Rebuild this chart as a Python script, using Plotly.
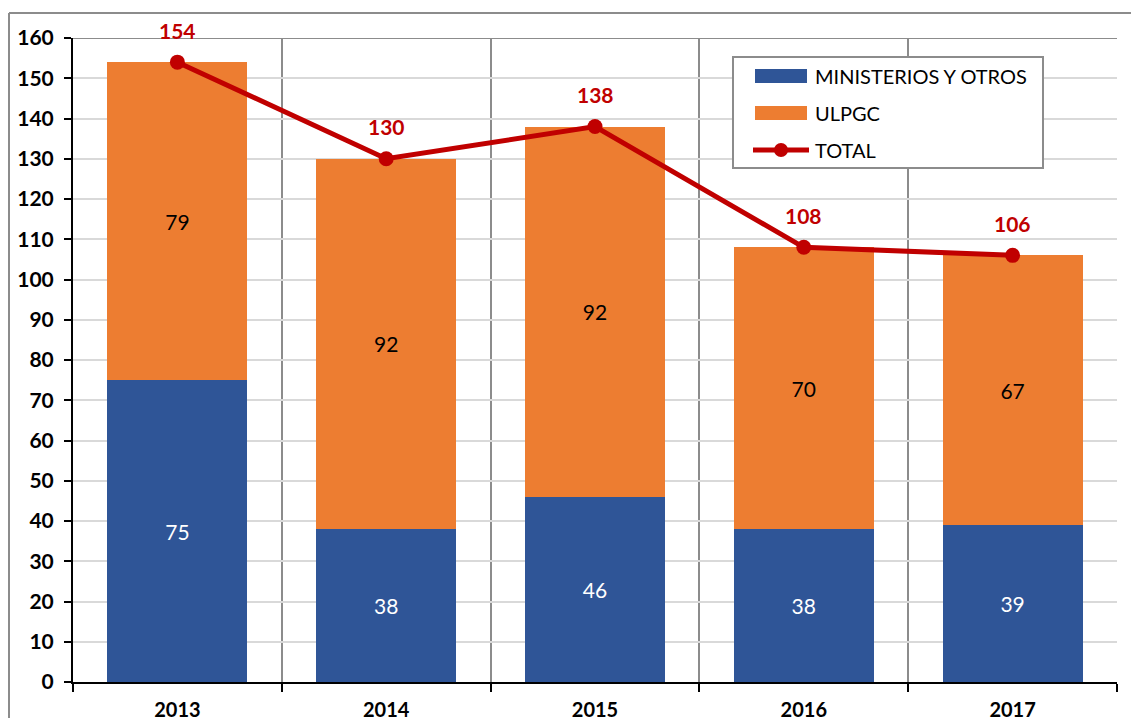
import plotly.graph_objects as go

years = ["2013", "2014", "2015", "2016", "2017"]
ministerios = [75, 38, 46, 38, 39]
ulpgc = [79, 92, 92, 70, 67]
total = [154, 130, 138, 108, 106]

BLUE = "#2F5597"
ORANGE = "#ED7D31"
RED = "#C00000"
FONT = "Lato, 'Open Sans', sans-serif"

W, H = 1132, 718
L, R, T, B = 73, 15, 38, 36
PW, PH = W - L - R, H - T - B


def px(x):
    return (x - L) / PW


def py(y):
    return (H - B - y) / PH


xpos = list(range(len(years)))

fig = go.Figure()
fig.add_trace(go.Bar(
    x=xpos, y=ministerios, name="MINISTERIOS Y OTROS",
    marker=dict(color=BLUE, line=dict(width=0)),
    text=ministerios, textposition="inside", insidetextanchor="middle",
    textfont=dict(color="white", size=21, family=FONT),
))
fig.add_trace(go.Bar(
    x=xpos, y=ulpgc, name="ULPGC",
    marker=dict(color=ORANGE, line=dict(width=0)),
    text=ulpgc, textposition="inside", insidetextanchor="middle",
    textfont=dict(color="black", size=21, family=FONT),
))
fig.add_trace(go.Scatter(
    x=xpos, y=total, name="TOTAL", mode="lines+markers",
    line=dict(color=RED, width=5),
    marker=dict(color=RED, size=15),
    cliponaxis=False,
))

shapes = [
    # darker top frame line at 160
    dict(type="line", xref="paper", yref="y", x0=0, x1=1, y0=160, y1=160,
         line=dict(color="#8C8C8C", width=2), layer="below"),
    # outer chart border
    dict(type="line", xref="paper", yref="paper", x0=px(9), x1=px(9), y0=py(13), y1=py(760),
         line=dict(color="#8C8C8C", width=2)),
    dict(type="line", xref="paper", yref="paper", x0=px(9), x1=px(1131), y0=py(13), y1=py(13),
         line=dict(color="#8C8C8C", width=2)),
    # legend box
    dict(type="rect", xref="paper", yref="paper", x0=px(733), x1=px(1043), y0=py(57), y1=py(168),
         fillcolor="white", line=dict(color="#8C8C8C", width=2), layer="above"),
    dict(type="rect", xref="paper", yref="paper", x0=px(755), x1=px(807), y0=py(69), y1=py(83),
         fillcolor=BLUE, line=dict(width=0), layer="above"),
    dict(type="rect", xref="paper", yref="paper", x0=px(755), x1=px(807), y0=py(106), y1=py(120),
         fillcolor=ORANGE, line=dict(width=0), layer="above"),
    dict(type="line", xref="paper", yref="paper", x0=px(753), x1=px(809), y0=py(150), y1=py(150),
         line=dict(color=RED, width=5), layer="above"),
    dict(type="circle", xref="paper", yref="paper", x0=px(774), x1=px(788), y0=py(143), y1=py(157),
         fillcolor=RED, line=dict(width=0), layer="above"),
]

annotations = []
# total value labels above the line markers
for xi, v in zip(xpos, total):
    annotations.append(dict(
        x=xi, y=v, xref="x", yref="y", text=f"<b>{v}</b>", showarrow=False,
        yshift=32, yanchor="middle", xanchor="center",
        font=dict(size=21, color=RED, family=FONT),
    ))
for label, yc in [("MINISTERIOS Y OTROS", 76), ("ULPGC", 113), ("TOTAL", 150)]:
    annotations.append(dict(
        xref="paper", yref="paper", x=px(813), y=py(yc), text=label,
        showarrow=False, xanchor="left", yanchor="middle",
        font=dict(size=20, color="black", family=FONT),
    ))

fig.update_layout(
    width=W, height=H,
    margin=dict(l=L, r=R, t=T, b=B, autoexpand=False),
    barmode="stack", bargap=0.33,
    paper_bgcolor="white", plot_bgcolor="white",
    showlegend=False,
    shapes=shapes, annotations=annotations,
    uniformtext=dict(minsize=21),
    xaxis=dict(
        range=[-0.5, 4.5], tickvals=xpos, ticktext=[f"<b>{y}</b>" for y in years],
        ticks="", showgrid=False, zeroline=False,
        showline=True, linecolor="black", linewidth=2,
        tickfont=dict(size=20, color="black", family=FONT),
        ticklabelstandoff=9,
        minor=dict(tickvals=[-0.5, 0.5, 1.5, 2.5, 3.5, 4.5], ticks="outside", ticklen=8,
                   tickwidth=2, tickcolor="black", showgrid=True,
                   gridcolor="#8C8C8C", gridwidth=1.5),
        automargin=False, fixedrange=True,
    ),
    yaxis=dict(
        range=[0, 160], tickmode="linear", tick0=0, dtick=10,
        ticks="outside", ticklen=7, tickwidth=2, tickcolor="black",
        showline=True, linecolor="black", linewidth=2,
        showgrid=True, gridcolor="#D9D9D9", gridwidth=1.5, zeroline=False,
        tickfont=dict(size=21, color="black", family=FONT),
        tickprefix="<b>", ticksuffix="</b>",
        ticklabelstandoff=6,
        automargin=False, fixedrange=True,
    ),
)

fig.write_html("out.html")
